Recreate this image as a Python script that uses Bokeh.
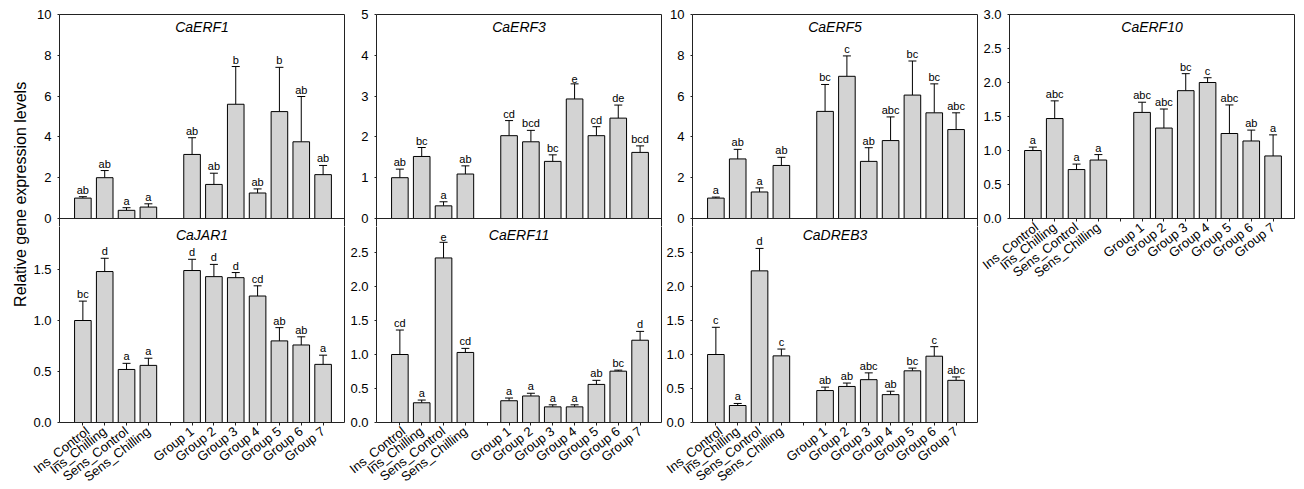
import math
from bokeh.plotting import figure
from bokeh.layouts import row, column
from bokeh.models import (Range1d, FixedTicker, LinearAxis, Span, Label, Whisker, TeeHead,
                          ColumnDataSource, NumeralTickFormatter)
from bokeh.embed import file_html
from bokeh.resources import INLINE
from bokeh.core.properties import value

# ---------------- data ----------------
categories = ["Ins_Control", "Ins_Chilling", "Sens_Control", "Sens_Chilling",
              "Group 1", "Group 2", "Group 3", "Group 4", "Group 5", "Group 6", "Group 7"]

erf1_mean = [1.00, 2.00, 0.40, 0.56, 3.14, 1.67, 5.60, 1.25, 5.24, 3.76, 2.15]
erf1_err = [0.07, 0.35, 0.13, 0.16, 0.82, 0.55, 1.85, 0.20, 2.17, 2.22, 0.45]
erf1_letters = ["ab", "ab", "a", "a", "ab", "ab", "b", "ab", "b", "ab", "ab"]

erf3_mean = [1.00, 1.52, 0.31, 1.09, 2.03, 1.88, 1.40, 2.93, 2.03, 2.46, 1.62]
erf3_err = [0.21, 0.22, 0.10, 0.20, 0.37, 0.28, 0.16, 0.37, 0.22, 0.32, 0.16]
erf3_letters = ["ab", "bc", "a", "ab", "cd", "bcd", "bc", "e", "cd", "de", "bcd"]

erf5_mean = [1.00, 2.92, 1.30, 2.60, 5.25, 6.97, 2.80, 3.82, 6.05, 5.18, 4.36]
erf5_err = [0.05, 0.47, 0.20, 0.40, 1.32, 1.00, 0.67, 1.16, 1.67, 1.42, 0.82]
erf5_letters = ["a", "ab", "a", "ab", "bc", "c", "ab", "abc", "bc", "bc", "abc"]

erf10_mean = [1.00, 1.47, 0.72, 0.86, 1.56, 1.33, 1.88, 2.00, 1.25, 1.14, 0.92]
erf10_err = [0.05, 0.26, 0.08, 0.08, 0.15, 0.28, 0.25, 0.07, 0.42, 0.16, 0.31]
erf10_letters = ["a", "abc", "a", "a", "abc", "abc", "bc", "c", "abc", "ab", "a"]

jar1_mean = [1.00, 1.48, 0.52, 0.56, 1.49, 1.43, 1.42, 1.24, 0.80, 0.76, 0.57]
jar1_err = [0.19, 0.13, 0.06, 0.07, 0.11, 0.12, 0.05, 0.10, 0.13, 0.08, 0.09]
jar1_letters = ["bc", "d", "a", "a", "d", "d", "d", "cd", "ab", "ab", "a"]

erf11_mean = [1.00, 0.29, 2.42, 1.03, 0.32, 0.39, 0.23, 0.23, 0.56, 0.755, 1.21]
erf11_err = [0.36, 0.04, 0.23, 0.06, 0.04, 0.04, 0.03, 0.03, 0.06, 0.015, 0.13]
erf11_letters = ["cd", "a", "e", "cd", "a", "a", "a", "a", "ab", "bc", "d"]

dreb3_mean = [1.00, 0.25, 2.23, 0.98, 0.47, 0.53, 0.63, 0.41, 0.76, 0.975, 0.62]
dreb3_err = [0.40, 0.03, 0.33, 0.10, 0.05, 0.05, 0.10, 0.05, 0.04, 0.14, 0.05]
dreb3_letters = ["c", "a", "d", "c", "ab", "ab", "abc", "ab", "bc", "c", "abc"]

y_title = "Relative gene expression levels"

# ---------------- style / layout ----------------
FONT = "Liberation Sans"
BAR_FILL = "#d3d3d3"
EDGE = "#222222"
X_START, X_END = -1.07, 11.98
FRAME_W = 285
RB = 2
TB = 14
ZERO_H = 204
GAP = 8
BOT_H = ZERO_H - GAP
BB = 64
ANGLE = math.radians(38)
BAR_W = 0.76

# x positions: 4 controls, one empty slot, 7 groups
xpos = [i + (1 if i >= 4 else 0) for i in range(len(categories))]
xticks = list(range(len(categories) + 1))
x_overrides = {t: "" for t in xticks}
for i, c in enumerate(categories):
    x_overrides[xpos[i]] = c


def style_y(ax, ticks, fmt):
    ax.ticker = FixedTicker(ticks=ticks)
    ax.formatter = NumeralTickFormatter(format=fmt)
    ax.major_label_text_font = FONT
    ax.major_label_text_font_size = "13px"
    ax.major_label_text_color = "black"
    ax.major_tick_out = 2
    ax.major_tick_in = 0
    ax.minor_tick_line_color = None
    ax.axis_line_color = EDGE
    ax.major_tick_line_color = EDGE
    ax.major_label_standoff = 6


def style_x(ax):
    ax.ticker = FixedTicker(ticks=xticks)
    ax.major_label_overrides = x_overrides
    ax.major_label_orientation = ANGLE
    ax.major_label_text_font = FONT
    ax.major_label_text_font_size = "13px"
    ax.major_label_text_color = "black"
    ax.major_tick_out = 3
    ax.major_tick_in = 0
    ax.minor_tick_line_color = None
    ax.axis_line_color = EDGE
    ax.major_tick_line_color = EDGE
    ax.major_label_standoff = 4


def edge_axis():
    return LinearAxis(ticker=FixedTicker(ticks=[]), major_label_standoff=0,
                      major_tick_out=0, major_tick_in=0, minor_tick_out=0, minor_tick_in=0,
                      axis_line_color=EDGE, major_label_text_font_size="0px")


def draw_bars(p, mean, err, letters):
    src = ColumnDataSource(dict(x=xpos, mean=mean, hi=[m + e for m, e in zip(mean, err)],
                                letters=letters))
    p.vbar(x="x", top="mean", bottom=0, width=BAR_W, fill_color=BAR_FILL,
           line_color="black", line_width=1, source=src)
    p.add_layout(Whisker(source=src, base="x", lower="mean", upper="hi",
                         upper_head=TeeHead(size=8, line_color="black", line_width=1),
                         lower_head=None, line_color="black", line_width=1))
    p.text(x="x", y="hi", text="letters", source=src, text_align="center",
           text_baseline="bottom", y_offset=-1, text_font=value(FONT),
           text_font_size="11px", text_color="black")


def add_title(p, title, y, yoff):
    p.add_layout(Label(x=(X_START + X_END) / 2, y=y, text=title, text_align="center",
                       text_baseline="top", y_offset=yoff, text_font=FONT,
                       text_font_style="italic", text_font_size="14px", text_color="black"))


def top_panel(title, mean, err, letters, ymax, ticks, fmt, lb):
    p = figure(frame_width=FRAME_W, frame_height=ZERO_H + GAP,
               x_range=Range1d(X_START, X_END),
               y_range=Range1d(-ymax * GAP / ZERO_H, ymax),
               x_axis_location=None, y_axis_location="left",
               min_border_left=lb, min_border_right=RB, min_border_top=TB,
               min_border_bottom=0, output_backend="svg", toolbar_location=None,
               outline_line_color=None)
    p.grid.visible = False
    style_y(p.yaxis[0], ticks, fmt)
    p.add_layout(edge_axis(), "right")
    p.add_layout(edge_axis(), "above")
    p.add_layout(Span(location=0, dimension="width", line_color=EDGE, line_width=1))
    draw_bars(p, mean, err, letters)
    add_title(p, title, ymax, -4)
    return p


def bottom_panel(title, mean, err, letters, ymax, ticks, fmt, lb):
    yend = ymax * BOT_H / ZERO_H
    p = figure(frame_width=FRAME_W, frame_height=BOT_H,
               x_range=Range1d(X_START, X_END), y_range=Range1d(0, yend),
               min_border_left=lb, min_border_right=RB, min_border_top=0,
               min_border_bottom=BB, output_backend="svg", toolbar_location=None,
               outline_line_color=None)
    p.grid.visible = False
    style_y(p.yaxis[0], ticks, fmt)
    style_x(p.xaxis[0])
    p.add_layout(edge_axis(), "right")
    draw_bars(p, mean, err, letters)
    add_title(p, title, yend, 0)
    return p


def full_panel(title, mean, err, letters, ymax, ticks, fmt, lb):
    p = figure(frame_width=FRAME_W, frame_height=ZERO_H,
               x_range=Range1d(X_START, X_END), y_range=Range1d(0, ymax),
               min_border_left=lb, min_border_right=RB, min_border_top=TB,
               min_border_bottom=BB, output_backend="svg", toolbar_location=None,
               outline_line_color=EDGE, outline_line_width=1)
    p.grid.visible = False
    style_y(p.yaxis[0], ticks, fmt)
    style_x(p.xaxis[0])
    draw_bars(p, mean, err, letters)
    add_title(p, title, ymax, -4)
    return p


half3 = [0, 0.5, 1.0, 1.5, 2.0, 2.5, 3.0]

t1 = top_panel("CaERF1", erf1_mean, erf1_err, erf1_letters, 10, [0, 2, 4, 6, 8, 10], "0", 29)
t2 = top_panel("CaERF3", erf3_mean, erf3_err, erf3_letters, 5, [0, 1, 2, 3, 4, 5], "0", 30)
t3 = top_panel("CaERF5", erf5_mean, erf5_err, erf5_letters, 10, [0, 2, 4, 6, 8, 10], "0", 29)
t4 = full_panel("CaERF10", erf10_mean, erf10_err, erf10_letters, 3.0, half3, "0.0", 30)

b1 = bottom_panel("CaJAR1", jar1_mean, jar1_err, jar1_letters, 2.0, [0, 0.5, 1.0, 1.5], "0.0", 29)
b2 = bottom_panel("CaERF11", erf11_mean, erf11_err, erf11_letters, 3.0,
                  [0, 0.5, 1.0, 1.5, 2.0, 2.5], "0.0", 30)
b3 = bottom_panel("CaDREB3", dreb3_mean, dreb3_err, dreb3_letters, 3.0,
                  [0, 0.5, 1.0, 1.5, 2.0, 2.5], "0.0", 29)

YL_W = 30
YL_H = TB + ZERO_H + GAP + BOT_H + BB
ylab = figure(width=YL_W, height=YL_H, x_range=Range1d(0, YL_W), y_range=Range1d(0, YL_H),
              min_border=0, x_axis_location=None, y_axis_location=None,
              output_backend="svg", toolbar_location=None, outline_line_color=None)
ylab.grid.visible = False
ylab.add_layout(Label(x=20, y=YL_H - 218, text=y_title, angle=math.pi / 2,
                      text_align="center", text_baseline="middle", text_font=FONT,
                      text_font_size="16px", text_color="black"))

layout = row(ylab, column(t1, b1), column(t2, b2), column(t3, b3), t4)

open("out.html", "w").write(file_html(layout, INLINE))
